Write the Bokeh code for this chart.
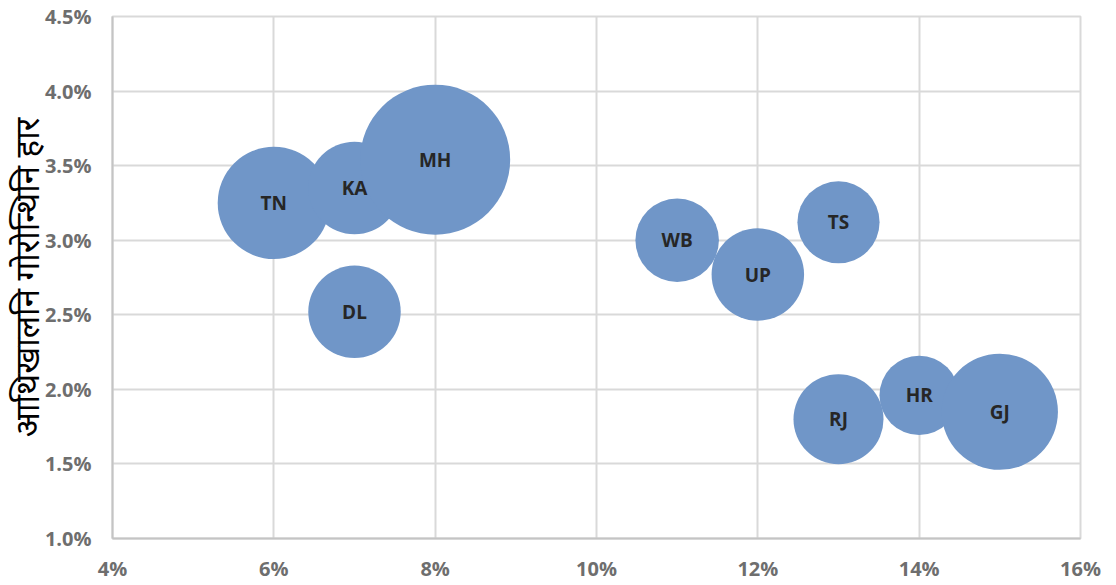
import math
from bokeh.plotting import figure
from bokeh.models import ColumnDataSource, NumeralTickFormatter, FixedTicker, Range1d
from bokeh.embed import file_html
from bokeh.resources import INLINE

states = ["TN", "KA", "MH", "DL", "WB", "UP", "TS", "RJ", "HR", "GJ"]
x_vals = [0.06, 0.07, 0.08, 0.07, 0.11, 0.12, 0.13, 0.13, 0.14, 0.15]
y_vals = [0.0325, 0.0335, 0.0354, 0.0252, 0.0300, 0.0277, 0.0312, 0.0180, 0.0196, 0.0185]
bubble_sizes = [56, 38, 100, 38, 31, 38, 30, 36, 28, 60]
x_ticks = [0.04, 0.06, 0.08, 0.10, 0.12, 0.14, 0.16]
y_ticks = [0.010, 0.015, 0.020, 0.025, 0.030, 0.035, 0.040, 0.045]
y_title = "आथिखालनि गोरोन्थिनि हार"

MAX_DIAM = 150
diam = [MAX_DIAM * math.sqrt(s / max(bubble_sizes)) for s in bubble_sizes]
src = ColumnDataSource(dict(x=x_vals, y=y_vals, d=diam, label=states))

p = figure(width=1116, height=585, output_backend="svg", toolbar_location=None,
           x_range=Range1d(0.04, 0.16), y_range=Range1d(0.010, 0.045),
           min_border_left=112, min_border_right=36, min_border_top=16, min_border_bottom=47)
p.background_fill_color = "white"
p.border_fill_color = "white"
p.outline_line_color = "#d9d9d9"
p.outline_line_width = 2

for g in (p.xgrid, p.ygrid):
    g.grid_line_color = "#d9d9d9"
    g.grid_line_width = 2
p.xgrid.ticker = FixedTicker(ticks=x_ticks)
p.ygrid.ticker = FixedTicker(ticks=y_ticks)

p.xaxis.ticker = FixedTicker(ticks=x_ticks)
p.yaxis.ticker = FixedTicker(ticks=y_ticks)
p.xaxis.formatter = NumeralTickFormatter(format="0%")
p.yaxis.formatter = NumeralTickFormatter(format="0.0%")
for ax in (p.xaxis, p.yaxis):
    ax.axis_line_color = "#c4c4c4"
    ax.axis_line_width = 2
    ax.major_tick_line_color = None
    ax.minor_tick_line_color = None
    ax.major_label_text_font = "Open Sans"
    ax.major_label_text_font_style = "bold"
    ax.major_label_text_font_size = "20px"
    ax.major_label_text_color = "#6e6e6e"
p.xaxis.major_label_standoff = 10
p.yaxis.major_label_standoff = 15

p.yaxis.axis_label = y_title
p.yaxis.axis_label_text_font = "Noto Sans"
p.yaxis.axis_label_text_font_style = "normal"
p.yaxis.axis_label_text_font_size = "33px"
p.yaxis.axis_label_text_color = "#000000"
p.yaxis.axis_label_standoff = -7

p.scatter("x", "y", size="d", source=src, fill_color="#7096c8", line_color=None)
p.text("x", "y", text="label", source=src, text_align="center", text_baseline="middle",
       text_font_size="19px", text_font_style="bold", text_color="#262626",
       text_font={"value": "Open Sans"})

open("out.html", "w").write(file_html(p, INLINE))
